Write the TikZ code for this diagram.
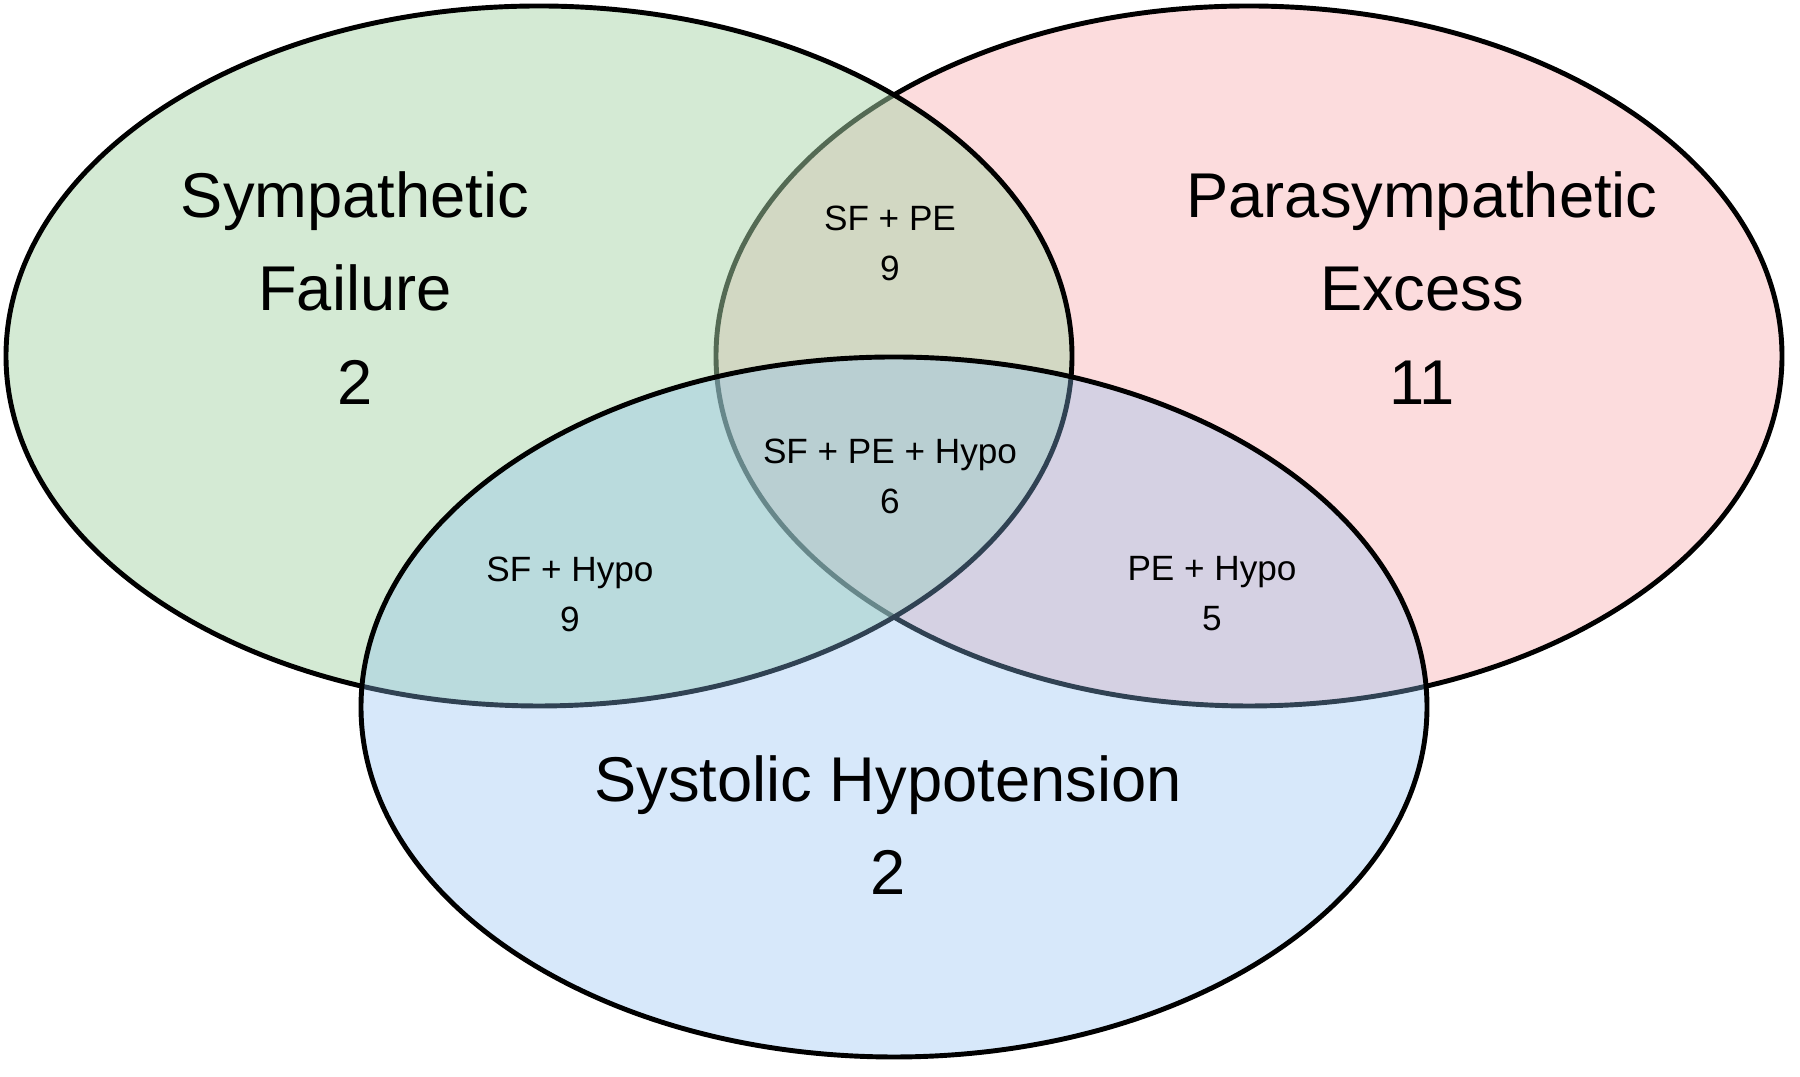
\documentclass[tikz,border=0pt]{standalone}
\usepackage{fontspec}
\setmainfont{Liberation Sans}
\definecolor{sfgreen}{RGB}{169,213,169}
\definecolor{pepink}{RGB}{243,115,119}
\definecolor{hypoblue}{RGB}{140,190,240}
\begin{document}
\begin{tikzpicture}[set/.style={draw=black,line width=1.4pt,fill opacity=0.25},
  big/.style={align=center,inner sep=0pt,font=\fontsize{18}{26.5}\selectfont},
  small/.style={align=center,inner sep=0pt,font=\fontsize{10}{14.2}\selectfont}]
\useasboundingbox (0,0) rectangle (18,10.77);
% the three sets, drawn pink, green, blue
\draw[set,fill=pepink] (12.49,7.21) ellipse (5.33 and 3.50);
\draw[set,fill=sfgreen,fill opacity=0.5] (5.39,7.21) ellipse (5.33 and 3.50);
\draw[set,fill=hypoblue,fill opacity=0.35] (8.94,3.70) ellipse (5.33 and 3.50);
% counts
\node[big] (SF) at (3.55,7.89) {Sympathetic\\Failure\\2};
\node[big] (PE) at (14.22,7.89) {Parasympathetic\\Excess\\11};
\node[big] (SH) at (8.88,2.52) {Systolic Hypotension\\2};
\node[small] (SFPE) at (8.90,8.34) {SF + PE\\9};
\node[small] (SFPEH) at (8.90,6.01) {SF + PE + Hypo\\6};
\node[small] (SFH) at (5.70,4.83) {SF + Hypo\\9};
\node[small] (PEH) at (12.12,4.83) {PE + Hypo\\5};
\end{tikzpicture}
\end{document}
